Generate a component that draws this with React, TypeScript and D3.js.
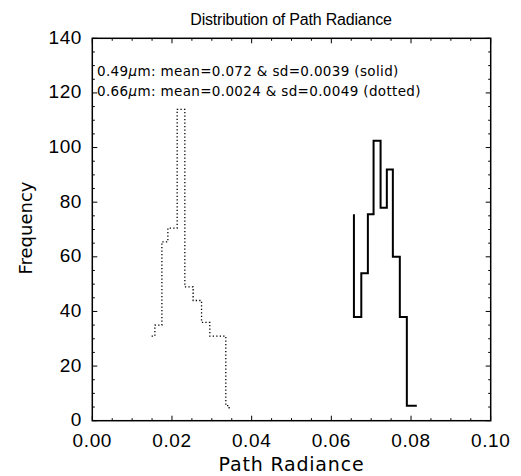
import React from "react";
import * as d3 from "d3";

// Solid series (0.49 µm): step vertices (x = bin edge, y = frequency held until next x)
const solidX = [0.06567, 0.06567, 0.06752, 0.06917, 0.0706, 0.07236, 0.07393, 0.07544, 0.07719, 0.07895, 0.08145];
const solidY = [75.6, 38, 54, 75.6, 102.5, 78, 92, 60, 38, 5.5, 5.5];

// Dotted series (0.66 µm)
const dottedX = [0.01489, 0.01571, 0.01747, 0.01897, 0.0213, 0.02323, 0.02531, 0.02742, 0.0295, 0.03351, 0.03434];
const dottedY = [31, 35, 65.5, 70.5, 114, 49, 44, 36, 31, 5.5, 4.5];

const xTicks = [0, 0.02, 0.04, 0.06, 0.08, 0.1];
const xTickLabels = ["0.00", "0.02", "0.04", "0.06", "0.08", "0.10"];
const yTicks = [0, 20, 40, 60, 80, 100, 120, 140];
const yTickLabels = ["0", "20", "40", "60", "80", "100", "120", "140"];

const title = "Distribution of Path Radiance";
const xTitle = "Path Radiance";
const yTitle = "Frequency";
const legend1 = [": mean=0.072 & sd=0.0039 (solid)"];
const legend2 = [": mean=0.0024 & sd=0.0049 (dotted)"];

const W = 521;
const H = 476;
const L = 92.3, R = 490.7, T = 38.3, B = 420.7;
const FONT = "'Liberation Sans', Arial, sans-serif";
const WIDE = "'DejaVu Sans', sans-serif";

export default function App() {
  const x = d3.scaleLinear().domain([0, 0.1]).range([L, R]);
  const y = d3.scaleLinear().domain([0, 140]).range([B, T]);

  const line = d3
    .line<[number, number]>()
    .x((d) => x(d[0]))
    .y((d) => y(d[1]))
    .curve(d3.curveStepAfter);

  const solidPts = solidX.map((v, i) => [v, solidY[i]] as [number, number]);
  const dottedPts = dottedX.map((v, i) => [v, dottedY[i]] as [number, number]);

  const xMinor = d3.range(0, 0.1001, 0.005);
  const yMinor = d3.range(0, 140.01, 5);

  const majorLen = 5;
  const minorLen = 2.5;

  return (
    <svg
      width={W}
      height={H}
      style={{ position: "absolute", left: 0, top: 0, background: "#fff" }}
      fontFamily={FONT}
    >
      <rect x={0} y={0} width={W} height={H} fill="#fff" />
      {/* frame */}
      <rect x={L} y={T} width={R - L} height={B - T} fill="none" stroke="#000" strokeWidth={1.5} />
      {/* x ticks */}
      {xMinor.map((v, i) => {
        const isMajor = Math.abs(v / 0.02 - Math.round(v / 0.02)) < 1e-6;
        const len = isMajor ? majorLen : minorLen;
        return (
          <g key={"xt" + i}>
            <line x1={x(v)} x2={x(v)} y1={B} y2={B - len} stroke="#000" strokeWidth={1} />
            <line x1={x(v)} x2={x(v)} y1={T} y2={T + len} stroke="#000" strokeWidth={1} />
          </g>
        );
      })}
      {yMinor.map((v, i) => {
        const isMajor = Math.abs(v / 20 - Math.round(v / 20)) < 1e-6;
        const len = isMajor ? majorLen : minorLen;
        return (
          <g key={"yt" + i}>
            <line x1={L} x2={L + len} y1={y(v)} y2={y(v)} stroke="#000" strokeWidth={1} />
            <line x1={R} x2={R - len} y1={y(v)} y2={y(v)} stroke="#000" strokeWidth={1} />
          </g>
        );
      })}
      {/* tick labels */}
      {xTicks.map((v, i) => (
        <text key={"xl" + i} x={x(v)} y={447} textAnchor="middle" fontSize={19} letterSpacing={0.6}>
          {xTickLabels[i]}
        </text>
      ))}
      {yTicks.map((v, i) => (
        <text key={"yl" + i} x={82} y={y(v) + 5.5} textAnchor="end" fontSize={19} letterSpacing={0.6}>
          {yTickLabels[i]}
        </text>
      ))}
      {/* titles */}
      <text x={291} y={25} textAnchor="middle" fontSize={16} letterSpacing={-0.2}>
        {title}
      </text>
      <text x={291.5} y={471} textAnchor="middle" fontSize={19} fontFamily={WIDE} letterSpacing={0.8}>
        {xTitle}
      </text>
      <text
        transform={`translate(32, 228) rotate(-90)`}
        textAnchor="middle"
        fontSize={18}
        fontFamily={WIDE}
      >
        {yTitle}
      </text>
      {/* legend */}
      <text x={97} y={76} fontSize={13.5} fontFamily={WIDE} letterSpacing={0.35}>
        0.49<tspan fontStyle="italic">μ</tspan>m{legend1[0]}
      </text>
      <text x={97} y={96} fontSize={13.5} fontFamily={WIDE} letterSpacing={0.35}>
        0.66<tspan fontStyle="italic">μ</tspan>m{legend2[0]}
      </text>
      {/* series */}
      <path d={line(solidPts) || ""} fill="none" stroke="#000" strokeWidth={2} />
      <path
        d={line(dottedPts) || ""}
        fill="none"
        stroke="#000"
        strokeWidth={1.3}
        strokeDasharray="1.3,2.2"
      />
    </svg>
  );
}
